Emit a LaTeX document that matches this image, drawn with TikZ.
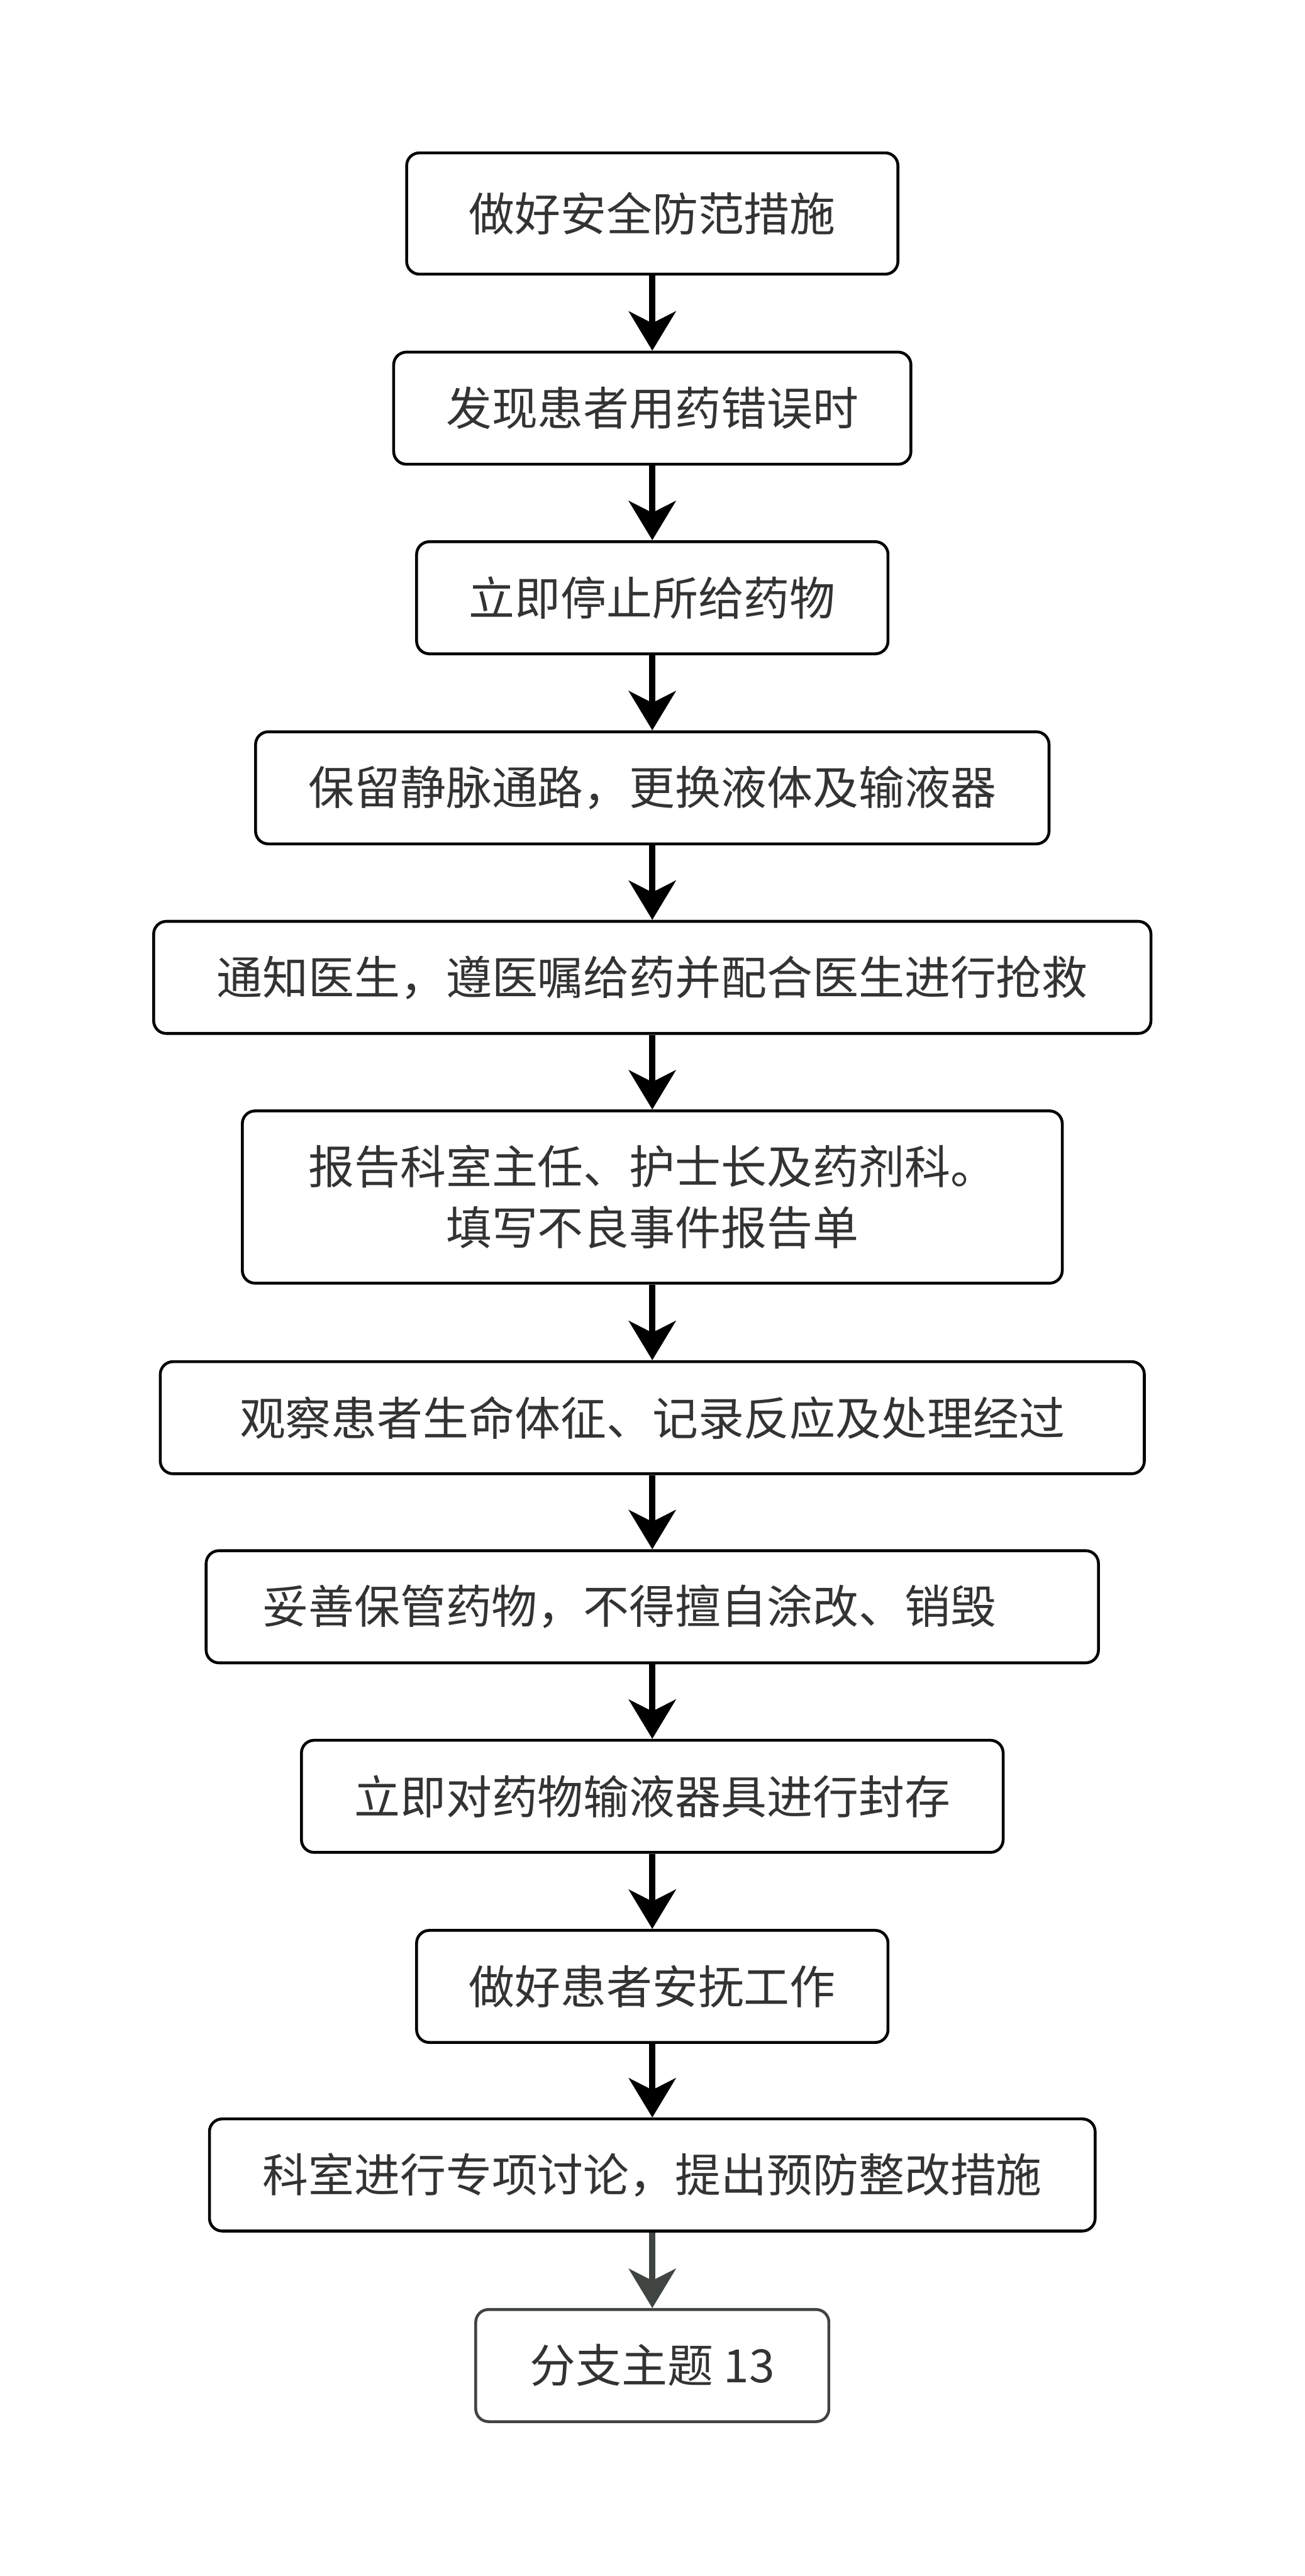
\documentclass[tikz,border=0pt]{standalone}
\usepackage{fontspec}
\setmainfont{Noto Sans CJK SC}
\usetikzlibrary{arrows.meta}
\definecolor{textgray}{HTML}{333333}
\definecolor{branchgray}{HTML}{414541}
\begin{document}
\begin{tikzpicture}[
    stepbox/.style={draw=black, fill=white, rounded corners=0.25cm, line width=1.6pt,
      text=textgray, minimum height=2.2cm, align=center,
      font=\fontsize{25.6}{34}\selectfont},
    flowarrow/.style={draw=black, line width=3.6pt,
      -{Stealth[length=0.77cm,width=0.92cm,inset=0.23cm]}}
  ]
    \useasboundingbox (0,0) rectangle (25.6,-50.55);
    \node[stepbox, minimum width=9.64cm, minimum height=2.38cm] (safety) at (12.8,-4.19) {做好安全防范措施};
    \node[stepbox, minimum width=10.15cm] (discover) at (12.8,-8.01) {发现患者用药错误时};
    \node[stepbox, minimum width=9.25cm] (stopdrug) at (12.8,-11.73) {立即停止所给药物};
    \node[stepbox, minimum width=15.57cm] (keepline) at (12.8,-15.46) {保留静脉通路，更换液体及输液器};
    \node[stepbox, minimum width=19.57cm] (notify) at (12.8,-19.18) {通知医生，遵医嘱给药并配合医生进行抢救};
    \node[stepbox, minimum width=16.09cm, minimum height=3.38cm] (report) at (12.8,-23.49) {报告科室主任、护士长及药剂科。\\填写不良事件报告单};
    \node[stepbox, minimum width=19.31cm] (observe) at (12.8,-27.82) {观察患者生命体征、记录反应及处理经过};
    \node[stepbox, minimum width=17.51cm] (keepdrug) at (12.8,-31.53) {妥善保管药物，不得擅自涂改、销毁\hspace*{0.9cm}};
    \node[stepbox, minimum width=13.77cm] (seal) at (12.8,-35.25) {立即对药物输液器具进行封存};
    \node[stepbox, minimum width=9.25cm] (comfort) at (12.8,-38.98) {做好患者安抚工作};
    \node[stepbox, minimum width=17.38cm] (discuss) at (12.8,-42.68) {科室进行专项讨论，提出预防整改措施};
    \node[stepbox, draw=branchgray, minimum width=6.93cm] (branch) at (12.8,-46.42) {分支主题 13};
    \draw[flowarrow] (safety) -- (discover);
    \draw[flowarrow] (discover) -- (stopdrug);
    \draw[flowarrow] (stopdrug) -- (keepline);
    \draw[flowarrow] (keepline) -- (notify);
    \draw[flowarrow] (notify) -- (report);
    \draw[flowarrow] (report) -- (observe);
    \draw[flowarrow] (observe) -- (keepdrug);
    \draw[flowarrow] (keepdrug) -- (seal);
    \draw[flowarrow] (seal) -- (comfort);
    \draw[flowarrow] (comfort) -- (discuss);
    \draw[flowarrow, draw=branchgray, fill=branchgray] (discuss) -- (branch);
\end{tikzpicture}
\end{document}
